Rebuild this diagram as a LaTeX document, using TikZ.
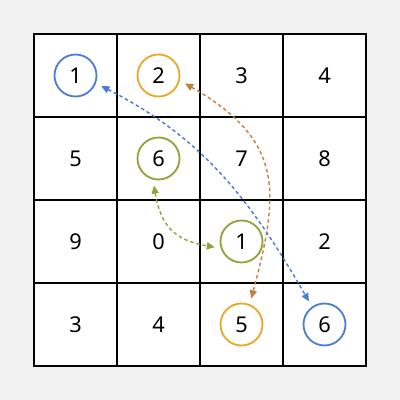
\documentclass[tikz,border=0pt]{standalone}
\usepackage{fontspec}
\setmainfont{Noto Sans}
\usetikzlibrary{arrows.meta}
\definecolor{bgc}{HTML}{F2F2F2}
\definecolor{cblue}{HTML}{4A7FD4}
\definecolor{corange}{HTML}{E8A82A}
\definecolor{cgreen}{HTML}{8CA63C}
\definecolor{ablue}{HTML}{4A7BD0}
\definecolor{aorange}{HTML}{C08040}
\definecolor{agreen}{HTML}{8CA63C}
\tikzset{
  num/.style={font=\fontsize{15.5}{18}\selectfont, inner sep=0pt},
  ring/.style={num, circle, draw=#1, line width=1.3pt, minimum size=42*0.25mm},
  link/.style={draw=#1, line width=1pt, dash pattern=on 2.5pt off 2pt,
    {Triangle[length=2mm,width=1.8mm]}-{Triangle[length=2mm,width=1.8mm]},
    shorten <=1.5mm, shorten >=1.5mm},
  gridline/.style={line width=1.4pt, line cap=rect},
}
\begin{document}
\begin{tikzpicture}[x=0.25mm,y=0.25mm]
\fill[bgc] (0,0) rectangle (400,400);
\useasboundingbox (0,0) rectangle (400,400);
\fill[white] (34,34) rectangle (366,366);
\foreach \k in {0,1,2,3,4} {
  \draw[gridline] ({34+83*\k},34) -- ({34+83*\k},366);
  \draw[gridline] (34,{34+83*\k}) -- (366,{34+83*\k});
}
% row 1
\node[ring=cblue] (b1) at (75.5,324.5) {1};
\node[ring=corange] (o2) at (158.5,324.5) {2};
\node[num] (n3) at (241.5,324.5) {3};
\node[num] (n4) at (324.5,324.5) {4};
% row 2
\node[num] (n5) at (75.5,241.5) {5};
\node[ring=cgreen] (g6) at (158.5,241.5) {6};
\node[num] (n7) at (241.5,241.5) {7};
\node[num] (n8) at (324.5,241.5) {8};
% row 3
\node[num] (n9) at (75.5,158.5) {9};
\node[num] (n0) at (158.5,158.5) {0};
\node[ring=cgreen] (g1) at (241.5,158.5) {1};
\node[num] (n2) at (324.5,158.5) {2};
% row 4
\node[num] (m3) at (75.5,75.5) {3};
\node[num] (m4) at (158.5,75.5) {4};
\node[ring=corange] (o5) at (241.5,75.5) {5};
\node[ring=cblue] (b6) at (324.5,75.5) {6};
% links
\draw[link=ablue] (b1.-21) to[out=-27,in=120] (b6.125);
\draw[link=aorange] (o2.-13) to[out=-30,in=75,looseness=1.3] (o5.68);
\draw[link=agreen] (g6.-105) to[out=-80,in=170,looseness=1.25] (g1.-162);
\end{tikzpicture}
\end{document}
